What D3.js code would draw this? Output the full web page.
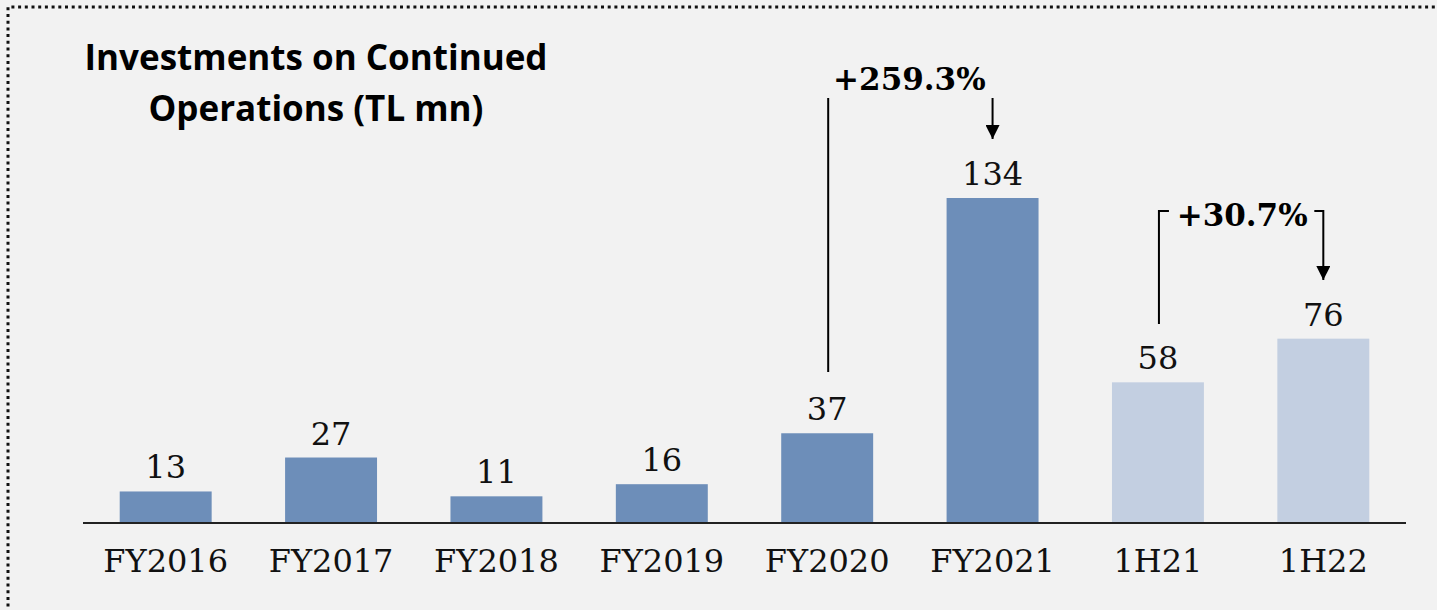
<!DOCTYPE html>
<html><head><meta charset="utf-8">
<script src="https://cdn.jsdelivr.net/npm/d3@7"></script>
<style>html,body{margin:0;padding:0;background:#f2f2f2;overflow:hidden}</style>
</head><body>
<svg id="chart" width="1437" height="610"></svg>
<script>
const categories = ["FY2016","FY2017","FY2018","FY2019","FY2020","FY2021","1H21","1H22"];
const values = [13, 27, 11, 16, 37, 134, 58, 76];
const periodType = ["FY","FY","FY","FY","FY","FY","H","H"];
const titleLines = ["Investments on Continued","Operations (TL mn)"];
const growthLabels = [
  {from: "FY2020", to: "FY2021", text: "+259.3%"},
  {from: "1H21", to: "1H22", text: "+30.7%"}
];

const svg = d3.select("#chart");
const W = 1437, H = 610;
svg.append("rect").attr("width", W).attr("height", H).attr("fill", "#f2f2f2");
svg.append("path").attr("d", `M8,${H+10} L8,7 L${W+10},7`)
  .attr("fill","none").attr("stroke","#111").attr("stroke-width",3).attr("stroke-dasharray","3,3.7");

const baseY = 523;
const x = d3.scaleBand().domain(categories).range([83, 1406]).paddingInner(0.444).paddingOuter(0.222);
const y = d3.scaleLinear().domain([0, 134]).range([baseY, 198]);
const color = {FY: "#6d8eb9", H: "#c3cfe1"};

svg.selectAll("rect.bar").data(values).join("rect").attr("class","bar")
  .attr("x", (d,i) => x(categories[i]))
  .attr("y", d => y(d))
  .attr("width", x.bandwidth())
  .attr("height", d => baseY - y(d))
  .attr("fill", (d,i) => color[periodType[i]]);

const numFont = "'DejaVu Serif', serif";
svg.selectAll("text.val").data(values).join("text").attr("class","val")
  .attr("x", (d,i) => x(categories[i]) + x.bandwidth()/2)
  .attr("y", d => y(d) - 13)
  .attr("text-anchor","middle")
  .attr("font-family", numFont).attr("font-size", 32).attr("fill","#111")
  .text(d => d);

const axis = d3.axisBottom(x).tickSize(0).tickPadding(0);
const gA = svg.append("g").attr("transform", `translate(0,${baseY})`).call(axis);
gA.select(".domain").attr("stroke","#222").attr("stroke-width",2).attr("d","M83,0H1406");
gA.selectAll(".tick text").attr("font-family", numFont).attr("font-size", 32).attr("fill","#111")
  .attr("dy", null).attr("y", 49);

const title = svg.append("text").attr("font-family","'Open Sans', sans-serif").attr("font-weight","bold")
  .attr("font-size", 35).attr("fill","#000").attr("text-anchor","middle");
titleLines.forEach((t,i) => {
  title.append("tspan").attr("x", 316).attr("y", 70 + i*51).text(t);
});
const targetW = [462, 337];
title.selectAll("tspan").each(function(d,i){
  const w = this.getComputedTextLength();
  if (Math.abs(w - targetW[i]) > 3) d3.select(this).attr("textLength", targetW[i]).attr("lengthAdjust","spacingAndGlyphs");
});

const defs = svg.append("defs");
defs.append("marker").attr("id","arr").attr("viewBox","0 0 10 10").attr("refX",10).attr("refY",5)
  .attr("markerWidth",14).attr("markerHeight",14).attr("markerUnits","userSpaceOnUse").attr("orient","auto")
  .append("path").attr("d","M0,0 L10,5 L0,10 Z").attr("fill","#000");

const cx = c => x(c) + x.bandwidth()/2;
{
  const g = growthLabels[0];
  const x1 = cx(g.from) + 1, x2 = cx(g.to);
  svg.append("line").attr("x1", x1).attr("x2", x1).attr("y1", 98).attr("y2", 372).attr("stroke","#000").attr("stroke-width",2);
  svg.append("line").attr("x1", x2).attr("x2", x2).attr("y1", 98).attr("y2", 139).attr("stroke","#000").attr("stroke-width",2).attr("marker-end","url(#arr)");
  svg.append("text").attr("x", (x1 + x2)/2 - 1).attr("y", 90).attr("text-anchor","middle")
    .attr("font-family", numFont).attr("font-weight","bold").attr("font-size", 31).attr("fill","#000").text(g.text);
}
{
  const g = growthLabels[1];
  const x1 = cx(g.from) + 1, x2 = cx(g.to);
  svg.append("path").attr("d", `M${x1},324 V211 H${x1+10}`).attr("fill","none").attr("stroke","#000").attr("stroke-width",2);
  svg.append("path").attr("d", `M${x2-9},211 H${x2} V280`).attr("fill","none").attr("stroke","#000").attr("stroke-width",2).attr("marker-end","url(#arr)");
  svg.append("text").attr("x", (x1 + x2)/2 + 1).attr("y", 226).attr("text-anchor","middle")
    .attr("font-family", numFont).attr("font-weight","bold").attr("font-size", 31).attr("fill","#000").text(g.text);
}
</script>
</body></html>
